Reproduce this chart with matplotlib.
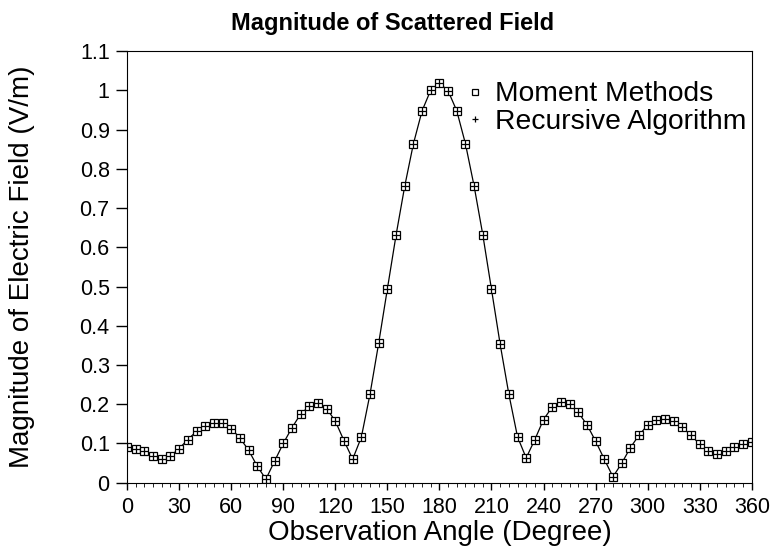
import matplotlib
matplotlib.use("Agg")
import matplotlib.pyplot as plt
from matplotlib.ticker import MultipleLocator
from matplotlib.lines import Line2D
import numpy as np

plt.rcParams['font.family'] = ['Liberation Sans', 'DejaVu Sans']

angles = list(range(0, 365, 5))
moment_methods = [
    0.091, 0.087, 0.080, 0.068, 0.060, 0.068, 0.087, 0.110, 0.131, 0.144,
    0.151, 0.151, 0.138, 0.114, 0.083, 0.042, 0.009, 0.055, 0.100, 0.140,
    0.175, 0.195, 0.202, 0.189, 0.157, 0.107, 0.060, 0.116, 0.226, 0.356,
    0.494, 0.631, 0.756, 0.864, 0.948, 1.001, 1.019, 0.999, 0.948, 0.864,
    0.756, 0.632, 0.493, 0.353, 0.226, 0.117, 0.063, 0.110, 0.161, 0.193,
    0.206, 0.200, 0.179, 0.148, 0.106, 0.060, 0.015, 0.049, 0.089, 0.121,
    0.147, 0.159, 0.162, 0.157, 0.141, 0.121, 0.098, 0.080, 0.072, 0.080,
    0.091, 0.098, 0.103,
]
recursive_algorithm = list(moment_methods)
y_tick_labels = ['0', '0.1', '0.2', '0.3', '0.4', '0.5', '0.6', '0.7',
                 '0.8', '0.9', '1', '1.1']

fig = plt.figure(figsize=(7.75, 5.51), dpi=100)
ax = fig.add_axes([0.164, 0.124, 0.806, 0.783])

ax.plot(angles, moment_methods, color='black', linewidth=0.9,
        marker='s', markersize=6, markerfacecolor='white',
        markeredgecolor='black', markeredgewidth=0.9)
ax.plot(angles, recursive_algorithm, color='black', linewidth=0,
        marker='+', markersize=6, markeredgewidth=0.9)

ax.set_xlim(0, 360)
ax.set_ylim(0, 1.1)
ax.xaxis.set_major_locator(MultipleLocator(30))
ax.xaxis.set_minor_locator(MultipleLocator(5))
ax.set_yticks(np.arange(0, 1.101, 0.1))
ax.set_yticklabels(y_tick_labels)
ax.tick_params(axis='both', which='major', labelsize=15.5, direction='out',
               width=1)
ax.tick_params(axis='y', which='major', length=8, pad=4.5)
ax.tick_params(axis='x', which='major', length=5, pad=5)
ax.tick_params(axis='x', which='minor', length=3, direction='out')

fig.text(0.506, 0.958, 'Magnitude of Scattered Field', fontsize=17,
         fontweight='bold', ha='center', va='center')
ax.set_xlabel('Observation Angle (Degree)', fontsize=20, labelpad=2)
ax.set_ylabel('Magnitude of Electric Field (V/m)', fontsize=20)
ax.yaxis.set_label_coords(-0.148, 0.5)

handles = [
    Line2D([], [], linestyle='none', marker='s', markersize=5,
           markerfacecolor='white', markeredgecolor='black',
           markeredgewidth=0.9),
    Line2D([], [], linestyle='none', marker='+', markersize=5,
           color='black', markeredgewidth=0.9),
]
ax.legend(handles, ['Moment Methods', 'Recursive Algorithm'],
          loc='upper right', bbox_to_anchor=(0.991, 0.930),
          frameon=False, fontsize=20.3, borderpad=0, borderaxespad=0,
          handlelength=0.5, handletextpad=0.45, labelspacing=0.05)

fig.savefig('out.png', dpi=100)
